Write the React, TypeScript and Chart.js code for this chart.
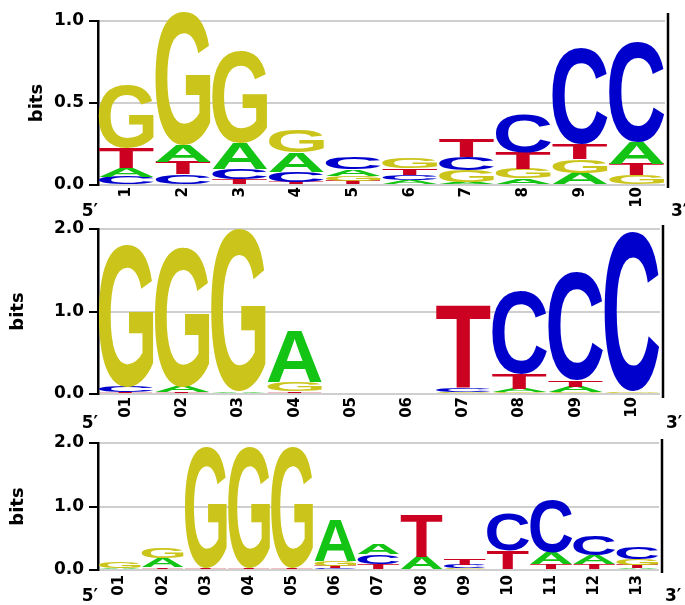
import React, { useEffect, useRef } from "react";
import { Chart, registerables } from "chart.js";

Chart.register(...registerables);

// ---------- data ----------
const labels1 = ["1", "2", "3", "4", "5", "6", "7", "8", "9", "10"];
const a1 = [0.055, 0.104, 0.158, 0.12, 0.04, 0.028, 0.02, 0.04, 0.075, 0.13];
const c1 = [0.05, 0.065, 0.06, 0.06, 0.075, 0.034, 0.08, 0.23, 0.59, 0.61];
const g1 = [0.384, 0.81, 0.564, 0.135, 0.03, 0.062, 0.07, 0.06, 0.082, 0.06];
const t1 = [0.122, 0.075, 0.037, 0.02, 0.025, 0.04, 0.11, 0.1, 0.09, 0.07];

const labels2 = ["01", "02", "03", "04", "05", "06", "07", "08", "09", "10"];
const a2 = [0, 0.07, 0.03, 0.62, 0, 0, 0, 0.04, 0.07, 0];
const c2 = [0.07, 0, 0, 0, 0, 0, 0.05, 1.0, 1.31, 1.93];
const g2 = [1.72, 1.7, 1.96, 0.11, 0, 0, 0.02, 0.02, 0.02, 0.03];
const t2 = [0.02, 0.02, 0, 0.03, 0, 0, 1.0, 0.18, 0.075, 0];

const labels3 = ["01", "02", "03", "04", "05", "06", "07", "08", "09", "10", "11", "12", "13"];
const a3 = [0.03, 0.15, 0.02, 0.02, 0.02, 0.65, 0.16, 0.21, 0, 0.02, 0.17, 0.13, 0.03];
const c3 = [0, 0, 0, 0, 0, 0.025, 0.15, 0, 0.05, 0.57, 0.83, 0.31, 0.18];
const g3 = [0.1, 0.16, 1.9, 1.9, 1.9, 0.08, 0, 0, 0.03, 0, 0, 0, 0.095];
const t3 = [0, 0.04, 0.02, 0.02, 0.02, 0.035, 0.1, 0.66, 0.1, 0.29, 0.1, 0.1, 0.05];

const yTicksTop = [0, 0.5, 1.0];
const yTicksOther = [0, 1.0, 2.0];

// ---------- styles ----------
const COLORS: Record<string, string> = {
  A: "#14c414",
  C: "#0000cc",
  G: "#cbc41a",
  T: "#cc0020",
};
const LETTER_FONT = 'bold 200px "Liberation Sans"';
const TEXT_FONT = "DejaVu Sans";

function drawLetter(
  ctx: CanvasRenderingContext2D,
  ch: string,
  x: number,
  y: number,
  w: number,
  h: number,
  color: string
) {
  ctx.save();
  ctx.font = LETTER_FONT;
  ctx.textAlign = "left";
  ctx.textBaseline = "alphabetic";
  const m = ctx.measureText(ch);
  const gl = m.actualBoundingBoxLeft;
  const gr = m.actualBoundingBoxRight;
  const ga = m.actualBoundingBoxAscent;
  const gd = m.actualBoundingBoxDescent;
  const gw = gl + gr;
  const gh = ga + gd;
  ctx.translate(x, y);
  ctx.scale(w / gw, h / gh);
  ctx.fillStyle = color;
  ctx.fillText(ch, gl, ga);
  ctx.restore();
}

function buildDatasets(A: number[], C: number[], G: number[], T: number[]) {
  const ranks = [0, 1, 2, 3].map(() => ({
    data: [] as [number, number][],
    letters: [] as string[],
    backgroundColor: [] as string[],
  }));
  for (let i = 0; i < A.length; i++) {
    const items: [string, number][] = [
      ["A", A[i]],
      ["C", C[i]],
      ["G", G[i]],
      ["T", T[i]],
    ];
    items.sort((p, q) => p[1] - q[1]);
    let acc = 0;
    items.forEach(([l, v], r) => {
      ranks[r].data.push([acc, acc + v]);
      ranks[r].letters.push(l);
      ranks[r].backgroundColor.push(COLORS[l]);
      acc += v;
    });
  }
  return ranks;
}

type Panel = {
  labels: string[];
  A: number[];
  C: number[];
  G: number[];
  T: number[];
  ticks: number[];
  canvasTop: number;
  canvasHeight: number;
  areaTop: number;
  areaBottom: number;
  areaLeft: number;
  areaRight: number;
  titlePad: number;
  xPad: number;
  lineTop: number;
  lineBottom: number;
  primeDy: number;
};

const W = 685;

const panels: Panel[] = [
  {
    labels: labels1, A: a1, C: c1, G: g1, T: t1, ticks: yTicksTop,
    canvasTop: 0, canvasHeight: 230, areaTop: 21, areaBottom: 185, areaLeft: 98, areaRight: 665,
    titlePad: 27, xPad: 2, lineTop: 8, lineBottom: 3, primeDy: 18,
  },
  {
    labels: labels2, A: a2, C: c2, G: g2, T: t2, ticks: yTicksOther,
    canvasTop: 200, canvasHeight: 235, areaTop: 29, areaBottom: 194, areaLeft: 98, areaRight: 660,
    titlePad: 8, xPad: 3, lineTop: 4, lineBottom: 4, primeDy: 21,
  },
  {
    labels: labels3, A: a3, C: c3, G: g3, T: t3, ticks: yTicksOther,
    canvasTop: 410, canvasHeight: 195, areaTop: 33, areaBottom: 160, areaLeft: 98, areaRight: 659,
    titlePad: 8, xPad: 5, lineTop: 4, lineBottom: 3, primeDy: 18,
  },
];

function makeChart(canvas: HTMLCanvasElement, p: Panel) {
  const datasets = buildDatasets(p.A, p.C, p.G, p.T);
  const yMax = p.ticks[p.ticks.length - 1];
  const step = p.ticks[1] - p.ticks[0];

  const logoPlugin = {
    id: "logoLetters",
    beforeDatasetsDraw(chart: any) {
      const ctx = chart.ctx as CanvasRenderingContext2D;
      chart.data.datasets.forEach((ds: any, di: number) => {
        const meta = chart.getDatasetMeta(di);
        meta.data.forEach((el: any, i: number) => {
          const { x, y, base, width } = el.getProps(["x", "y", "base", "width"], true);
          const top = Math.min(y, base);
          const h = Math.abs(base - y);
          if (h < 0.4) return;
          drawLetter(ctx, ds.letters[i], x - width / 2, top, width, h, ds.backgroundColor[i]);
        });
      });
      return false;
    },
    afterDraw(chart: any) {
      const ctx = chart.ctx as CanvasRenderingContext2D;
      const area = chart.chartArea;
      const rx = area.right + 3;
      ctx.save();
      ctx.strokeStyle = "#000";
      ctx.lineWidth = 2.5;
      ctx.beginPath();
      ctx.moveTo(rx, area.top - p.lineTop);
      ctx.lineTo(rx, area.bottom + p.lineBottom);
      ctx.stroke();
      ctx.fillStyle = "#000";
      ctx.font = `bold 17px "${TEXT_FONT}"`;
      ctx.textBaseline = "top";
      ctx.textAlign = "right";
      ctx.fillText("5\u2032", area.left, area.bottom + p.primeDy);
      ctx.textAlign = "left";
      ctx.fillText("3\u2032", rx + 3, area.bottom + p.primeDy);
      ctx.restore();
    },
  };

  return new Chart(canvas, {
    type: "bar",
    data: {
      labels: p.labels,
      datasets: datasets as any,
    },
    options: {
      animation: false,
      responsive: false,
      events: [],
      layout: {
        padding: {
          top: p.areaTop,
          left: 0,
          right: W - p.areaRight,
          bottom: 0,
        },
      },
      datasets: {
        bar: {
          grouped: false,
          barPercentage: 0.97,
          categoryPercentage: 1,
        } as any,
      },
      plugins: {
        legend: { display: false },
        tooltip: { enabled: false },
        title: { display: false },
      },
      scales: {
        x: {
          type: "category",
          offset: true,
          grid: { display: false, drawTicks: false },
          border: { display: false },
          ticks: {
            autoSkip: false,
            maxRotation: 90,
            minRotation: 90,
            padding: p.xPad,
            color: "#000",
            font: { family: TEXT_FONT, weight: "bold", size: 15 },
          },
          afterFit: (scale: any) => {
            scale.height = p.canvasHeight - p.areaBottom;
          },
        },
        y: {
          min: 0,
          max: yMax,
          ticks: {
            stepSize: step,
            padding: 5,
            color: "#000",
            font: { family: TEXT_FONT, weight: "bold", size: 17 },
            callback: (v: any) => Number(v).toFixed(1),
          },
          grid: {
            color: "#cfcfcf",
            lineWidth: 2,
            tickColor: "#000",
            tickWidth: 2,
            tickLength: 9,
            drawTicks: true,
          },
          border: { display: true, color: "#000", width: 2.5 },
          title: {
            display: true,
            text: "bits",
            color: "#000",
            font: { family: TEXT_FONT, weight: "bold", size: 18 },
            padding: { top: p.titlePad, bottom: 0 },
          },
          afterFit: (scale: any) => {
            scale.width = p.areaLeft;
          },
        },
      },
    },
    plugins: [logoPlugin as any],
  });
}

export default function App() {
  const r1 = useRef<HTMLCanvasElement>(null);
  const r2 = useRef<HTMLCanvasElement>(null);
  const r3 = useRef<HTMLCanvasElement>(null);

  useEffect(() => {
    const refs = [r1, r2, r3];
    const charts = refs.map((r, i) => makeChart(r.current as HTMLCanvasElement, panels[i]));
    return () => charts.forEach((c) => c.destroy());
  }, []);

  const refs = [r1, r2, r3];
  return (
    <div
      style={{
        position: "fixed",
        left: 0,
        top: 0,
        width: W,
        height: 605,
        background: "#fff",
        overflow: "hidden",
      }}
    >
      {panels.map((p, i) => (
        <canvas
          key={i}
          ref={refs[i]}
          width={W}
          height={p.canvasHeight}
          style={{
            position: "absolute",
            left: 0,
            top: p.canvasTop,
            width: W,
            height: p.canvasHeight,
            display: "block",
          }}
        />
      ))}
    </div>
  );
}
